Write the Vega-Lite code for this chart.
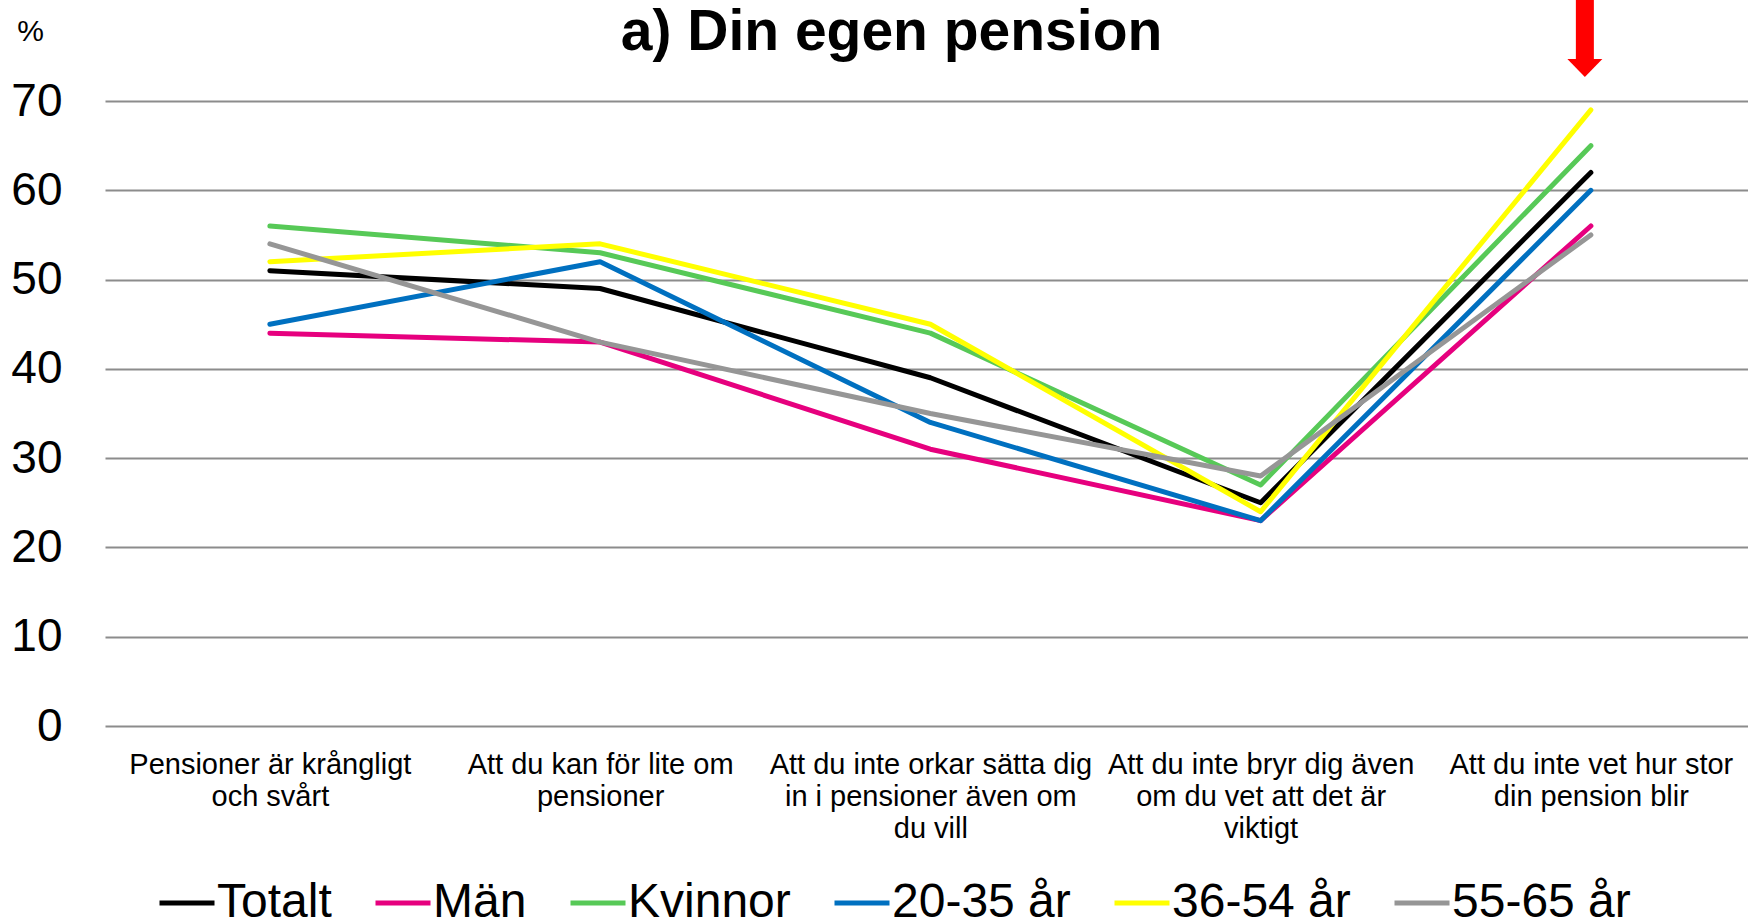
{
  "$schema": "https://vega.github.io/schema/vega-lite/v6.json",
  "autosize": {"type": "none"},
  "width": 1643,
  "height": 625,
  "padding": {"left": 105, "top": 101, "right": 0, "bottom": 197},
  "background": "#ffffff",
  "config": {"view": {"stroke": null}, "font": "Liberation Sans"},
  "title": {"text": "a) Din egen pension", "fontSize": 57, "font": "Liberation Sans", "fontWeight": "bold", "color": "#000000", "anchor": "middle", "frame": "group", "dx": -35, "baseline": "alphabetic", "offset": -116},
  "datasets": {
    "svar": [
      {"Fråga": "Pensioner är krångligt och svårt", "Grupp": "Totalt", "Andel": 51},
      {"Fråga": "Att du kan för lite om pensioner", "Grupp": "Totalt", "Andel": 49},
      {"Fråga": "Att du inte orkar sätta dig in i pensioner även om du vill", "Grupp": "Totalt", "Andel": 39},
      {"Fråga": "Att du inte bryr dig även om du vet att det är viktigt", "Grupp": "Totalt", "Andel": 25},
      {"Fråga": "Att du inte vet hur stor din pension blir", "Grupp": "Totalt", "Andel": 62},
      {"Fråga": "Pensioner är krångligt och svårt", "Grupp": "Män", "Andel": 44},
      {"Fråga": "Att du kan för lite om pensioner", "Grupp": "Män", "Andel": 43},
      {"Fråga": "Att du inte orkar sätta dig in i pensioner även om du vill", "Grupp": "Män", "Andel": 31},
      {"Fråga": "Att du inte bryr dig även om du vet att det är viktigt", "Grupp": "Män", "Andel": 23},
      {"Fråga": "Att du inte vet hur stor din pension blir", "Grupp": "Män", "Andel": 56},
      {"Fråga": "Pensioner är krångligt och svårt", "Grupp": "Kvinnor", "Andel": 56},
      {"Fråga": "Att du kan för lite om pensioner", "Grupp": "Kvinnor", "Andel": 53},
      {"Fråga": "Att du inte orkar sätta dig in i pensioner även om du vill", "Grupp": "Kvinnor", "Andel": 44},
      {"Fråga": "Att du inte bryr dig även om du vet att det är viktigt", "Grupp": "Kvinnor", "Andel": 27},
      {"Fråga": "Att du inte vet hur stor din pension blir", "Grupp": "Kvinnor", "Andel": 65},
      {"Fråga": "Pensioner är krångligt och svårt", "Grupp": "20-35 år", "Andel": 45},
      {"Fråga": "Att du kan för lite om pensioner", "Grupp": "20-35 år", "Andel": 52},
      {"Fråga": "Att du inte orkar sätta dig in i pensioner även om du vill", "Grupp": "20-35 år", "Andel": 34},
      {"Fråga": "Att du inte bryr dig även om du vet att det är viktigt", "Grupp": "20-35 år", "Andel": 23},
      {"Fråga": "Att du inte vet hur stor din pension blir", "Grupp": "20-35 år", "Andel": 60},
      {"Fråga": "Pensioner är krångligt och svårt", "Grupp": "36-54 år", "Andel": 52},
      {"Fråga": "Att du kan för lite om pensioner", "Grupp": "36-54 år", "Andel": 54},
      {"Fråga": "Att du inte orkar sätta dig in i pensioner även om du vill", "Grupp": "36-54 år", "Andel": 45},
      {"Fråga": "Att du inte bryr dig även om du vet att det är viktigt", "Grupp": "36-54 år", "Andel": 24},
      {"Fråga": "Att du inte vet hur stor din pension blir", "Grupp": "36-54 år", "Andel": 69},
      {"Fråga": "Pensioner är krångligt och svårt", "Grupp": "55-65 år", "Andel": 54},
      {"Fråga": "Att du kan för lite om pensioner", "Grupp": "55-65 år", "Andel": 43},
      {"Fråga": "Att du inte orkar sätta dig in i pensioner även om du vill", "Grupp": "55-65 år", "Andel": 35},
      {"Fråga": "Att du inte bryr dig även om du vet att det är viktigt", "Grupp": "55-65 år", "Andel": 28},
      {"Fråga": "Att du inte vet hur stor din pension blir", "Grupp": "55-65 år", "Andel": 55}
    ],
    "pil": [
      {"Fråga": "Att du inte vet hur stor din pension blir", "Spets": 73.7, "SkaftStart": 74.4, "SkaftSlut": 81.3}
    ]
  },
  "layer": [
    {
      "data": {"name": "svar"},
      "mark": {"type": "line", "strokeWidth": 5, "strokeCap": "round", "strokeJoin": "round"},
      "encoding": {
        "x": {
          "field": "Fråga", "type": "nominal",
          "scale": {"type": "point", "domain": ["Pensioner är krångligt och svårt", "Att du kan för lite om pensioner", "Att du inte orkar sätta dig in i pensioner även om du vill", "Att du inte bryr dig även om du vet att det är viktigt", "Att du inte vet hur stor din pension blir"], "padding": 0.4875, "align": 0.512},
          "axis": {
            "title": null, "domain": false, "ticks": false, "tickSize": 0, "grid": false,
            "labelAngle": 0, "labelAlign": "center", "labelBaseline": "top",
            "labelFont": "Liberation Sans", "labelFontSize": 29, "labelColor": "#000000",
            "labelPadding": 24, "labelLineHeight": 32, "labelLimit": 0, "labelOverlap": false,
            "labelExpr": "datum.value == 'Pensioner är krångligt och svårt' ? ['Pensioner är krångligt', 'och svårt'] : datum.value == 'Att du kan för lite om pensioner' ? ['Att du kan för lite om', 'pensioner'] : datum.value == 'Att du inte orkar sätta dig in i pensioner även om du vill' ? ['Att du inte orkar sätta dig', 'in i pensioner även om', 'du vill'] : datum.value == 'Att du inte bryr dig även om du vet att det är viktigt' ? ['Att du inte bryr dig även', 'om du vet att det är', 'viktigt'] : ['Att du inte vet hur stor', 'din pension blir']"
          }
        },
        "y": {
          "field": "Andel", "type": "quantitative",
          "scale": {"domain": [0, 70], "nice": false, "zero": true},
          "axis": {
            "values": [0, 10, 20, 30, 40, 50, 60, 70],
            "domain": false, "ticks": false, "tickSize": 0,
            "grid": true, "gridColor": "#8c8c8c", "gridWidth": 2,
            "labelFont": "Liberation Sans", "labelFontSize": 46, "labelColor": "#000000",
            "labelPadding": 43, "labelOffset": 0,
            "title": "%", "titleAngle": 0, "titleX": -75, "titleY": -61,
            "titleAlign": "center", "titleBaseline": "alphabetic",
            "titleFont": "Liberation Sans", "titleFontSize": 30, "titleFontWeight": "normal", "titleColor": "#000000"
          }
        },
        "color": {
          "field": "Grupp", "type": "nominal",
          "scale": {"domain": ["Totalt", "Män", "Kvinnor", "20-35 år", "36-54 år", "55-65 år"], "range": ["#000000", "#e6007e", "#57c957", "#0070c0", "#ffff00", "#969696"]},
          "legend": {
            "title": null, "orient": "none", "direction": "horizontal",
            "legendX": 52, "legendY": 772, "padding": 0,
            "symbolType": "stroke", "symbolSize": 3025, "symbolStrokeWidth": 5,
            "labelFont": "Liberation Sans", "labelFontSize": 48, "labelColor": "#000000",
            "labelOffset": 0, "columnPadding": 33, "labelLimit": 0
          }
        }
      }
    },
    {
      "data": {"name": "pil"},
      "mark": {"type": "rule", "color": "#ff0000", "strokeWidth": 18},
      "encoding": {
        "x": {"field": "Fråga", "type": "nominal"},
        "xOffset": {"value": -6},
        "y": {"field": "SkaftStart", "type": "quantitative"},
        "y2": {"field": "SkaftSlut"}
      }
    },
    {
      "data": {"name": "pil"},
      "mark": {"type": "point", "shape": "M-1,-0.514L1,-0.514L0,0.514Z", "filled": true, "color": "#ff0000", "size": 1225, "opacity": 1, "strokeWidth": 0},
      "encoding": {
        "x": {"field": "Fråga", "type": "nominal"},
        "xOffset": {"value": -6},
        "y": {"field": "Spets", "type": "quantitative"}
      }
    }
  ]
}
